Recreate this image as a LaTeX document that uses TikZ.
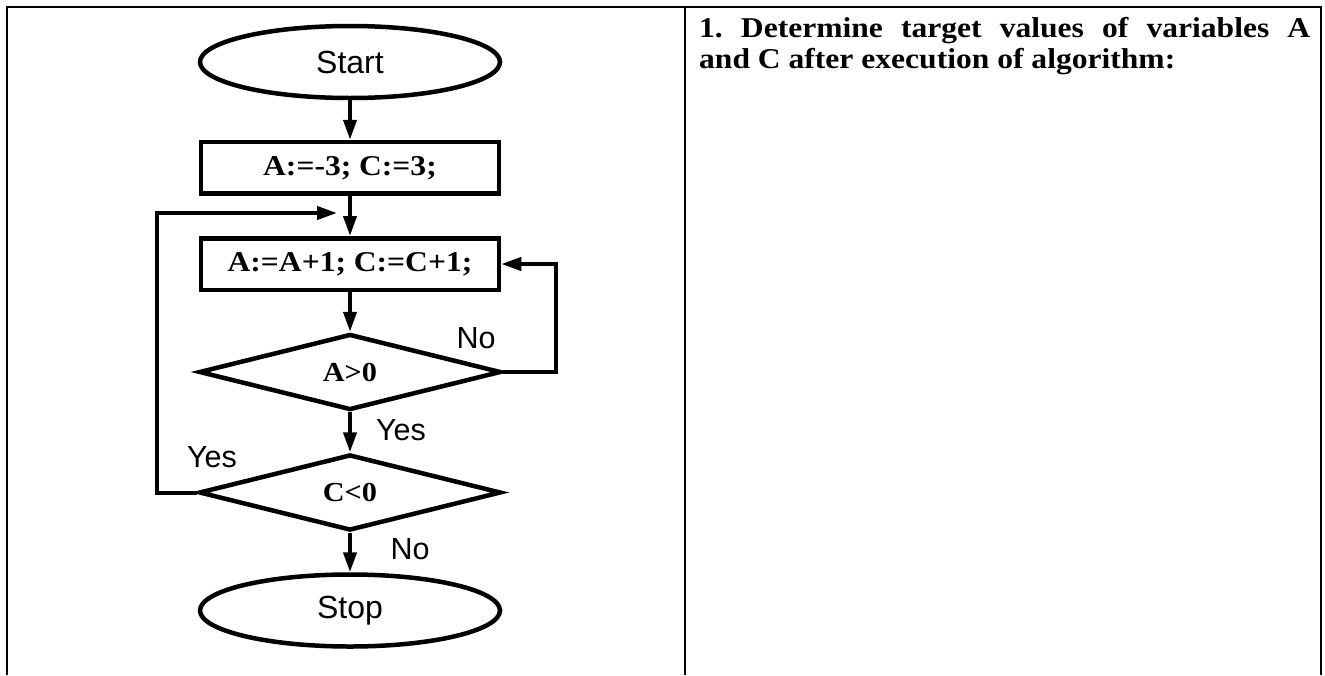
\documentclass[tikz,border=0pt]{standalone}
\usepackage{fontspec}
\newfontfamily\tnr{Liberation Serif}[FakeStretch=1.1]
\newfontfamily\arial{Liberation Sans}
\usetikzlibrary{shapes.geometric,arrows.meta}
\tikzset{
  fl/.style={line width=4.5pt},
  arr/.style={line width=4pt,-{Triangle[length=20pt,width=13pt]}},
  term/.style={fl,draw,ellipse,inner sep=0pt,minimum width=300pt,minimum height=72pt,font=\arial\fontsize{32}{32}\selectfont},
  proc/.style={fl,draw,rectangle,inner sep=0pt,minimum width=298pt,minimum height=51.5pt,font=\tnr\bfseries\fontsize{28.7}{30}\selectfont},
  cond/.style={fl,draw,diamond,inner sep=0pt,minimum width=302pt,minimum height=76pt,font=\tnr\bfseries\fontsize{27.5}{28}\selectfont},
  lbl/.style={inner sep=0pt,font=\arial\fontsize{30.5}{30.5}\selectfont},
  frame/.style={line width=2.6pt}
}
\begin{document}
\begin{tikzpicture}[x=1pt,y=-1pt]
\useasboundingbox (0,0) rectangle (1325,675);
% table frame
\draw[frame] (7,675) -- (7,7) -- (1321,7) -- (1321,675);
\draw[frame] (685,7) -- (685,675);
% question text
\node[anchor=base west,inner sep=0pt] (q) at (699,37)
  {\parbox[t]{611pt}{\frenchspacing\tnr\bfseries\fontsize{28.7}{31}\selectfont
   1. Determine target values of variables A\linebreak and C after execution of algorithm:}};
% flowchart
\node[term] (start) at (350,62) {Start};
\node[proc] (box1) at (350,167.75) {A:=-3; C:=3;};
\node[proc] (box2) at (350,264) {A:=A+1; C:=C+1;};
\node[cond] (d1) at (350,372) {A>0};
\node[cond] (d2) at (350,492.5) {C<0};
\node[term] (stop) at (350,610.5) {Stop};
\coordinate (loopin) at (337,213);
\draw[arr] (start) -- (box1);
\draw[arr] (box1) -- (box2);
\draw[arr] (box2) -- (d1);
\draw[arr] (d1) -- (d2);
\draw[arr] (d2) -- (stop);
\draw[arr] (d1.east) -- ++(53,0) |- (box2.east);
\draw[arr] (d2.west) -- ++(-40,0) |- (loopin);
% branch labels
\node[lbl] (no1) at (476,338) {No};
\node[lbl] (yes1) at (401,430) {Yes};
\node[lbl] (yes2) at (212,457) {Yes};
\node[lbl] (no2) at (410,549) {No};
\end{tikzpicture}
\end{document}
